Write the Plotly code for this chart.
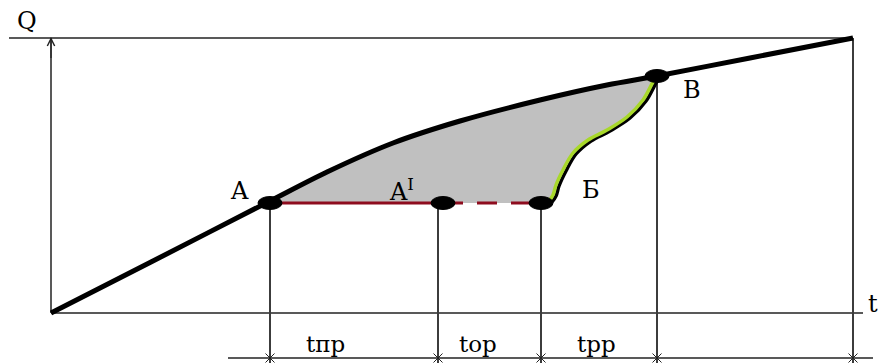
import plotly.graph_objects as go

# Main curve Q(t)
curve_t = [0, 100, 219, 276, 342, 409, 489, 556, 606, 699, 802]
curve_q = [0, 51, 112, 141, 170, 192, 213, 228, 237, 255, 275]

# Green recovery curve Б -> В
green_t = [498, 502, 505, 512, 522, 537, 556, 576, 592, 602, 606]
green_q = [112, 118, 128, 143, 160, 173, 183, 196, 213, 231, 237]

# Key points
point_labels = ["A", "A<sup>I</sup>", "Б", "В"]
point_t = [219, 392, 490, 606]
point_q = [110, 110, 110, 237]

# Vertical projection lines
drop_t = [219, 387, 490, 606, 802]
drop_top = [110, 110, 110, 237, 275]

# Interval labels
interval_labels = ["tпр", "tор", "tрр"]
interval_t = [274, 427, 545]

t_max = 812
q_top = 275
dim_q = -45

RED = "#8E0C1E"
GREEN = "#A8D82A"
GRAY = "#C0C0C0"
DROP = "#3c3c3c"
FONT = "DejaVu Serif"

fig = go.Figure()

# Gray area between curve (A..В), green curve and line A-Б
seg_t = [t for t in curve_t if point_t[0] <= t <= point_t[3]]
seg_q = [q for t, q in zip(curve_t, curve_q) if point_t[0] <= t <= point_t[3]]
fill_t = [point_t[0]] + seg_t + [point_t[3]] + green_t[::-1] + [point_t[2], point_t[0]]
fill_q = [point_q[0]] + seg_q + [point_q[3]] + green_q[::-1] + [point_q[2], point_q[0]]
fig.add_trace(go.Scatter(x=fill_t, y=fill_q, fill="toself", fillcolor=GRAY,
                         line=dict(width=0, color=GRAY), mode="lines", hoverinfo="skip"))

# Axes (drawn as lines)
fig.add_trace(go.Scatter(x=[0, 0], y=[0, q_top], mode="lines",
                         line=dict(color="#222", width=1.5), hoverinfo="skip"))
fig.add_trace(go.Scatter(x=[0, t_max], y=[0, 0], mode="lines",
                         line=dict(color="#222", width=1.5), hoverinfo="skip"))
fig.add_trace(go.Scatter(x=[-42, drop_t[-1]], y=[q_top, q_top], mode="lines",
                         line=dict(color="#222", width=1.5), hoverinfo="skip"))
fig.add_trace(go.Scatter(x=[point_t[0] - 42, t_max + 10], y=[dim_q, dim_q], mode="lines",
                         line=dict(color="#222", width=1.5), hoverinfo="skip"))

# Drop lines
for t, top in zip(drop_t, drop_top):
    fig.add_trace(go.Scatter(x=[t, t], y=[top, dim_q - 10], mode="lines",
                             line=dict(color=DROP, width=2), hoverinfo="skip"))
fig.add_trace(go.Scatter(x=drop_t, y=[dim_q] * len(drop_t), mode="markers",
                         marker=dict(symbol="x-thin-open", size=9, color="#222",
                                     line=dict(color="#222", width=1)), hoverinfo="skip"))

# Red lines A-A' (solid) and A'-Б (dashed)
fig.add_trace(go.Scatter(x=[point_t[0], point_t[1]], y=[point_q[0], point_q[1]], mode="lines",
                         line=dict(color=RED, width=3), hoverinfo="skip"))
fig.add_trace(go.Scatter(x=[point_t[1], point_t[2]], y=[point_q[1], point_q[2]], mode="lines",
                         line=dict(color=RED, width=3, dash="20px,14px"), hoverinfo="skip"))

# Main curve
fig.add_trace(go.Scatter(x=curve_t, y=curve_q, mode="lines", line_shape="spline",
                         line=dict(color="black", width=5, smoothing=0.8), hoverinfo="skip"))

# Green curve with black shadow
fig.add_trace(go.Scatter(x=[t + 3 for t in green_t], y=[q - 1 for q in green_q], mode="lines",
                         line_shape="spline", line=dict(color="black", width=3.5), hoverinfo="skip"))
fig.add_trace(go.Scatter(x=green_t, y=green_q, mode="lines", line_shape="spline",
                         line=dict(color=GREEN, width=3.5), hoverinfo="skip"))

# Point dots (ellipses)
shapes = []
for t, q in zip(point_t, point_q):
    shapes.append(dict(type="circle", xref="x", yref="y", x0=t - 12, x1=t + 12,
                       y0=q - 6.5, y1=q + 6.5, fillcolor="black",
                       line=dict(color="black", width=1), layer="above"))

annotations = []
# Axis arrow on Q
annotations.append(dict(x=0, y=q_top + 1, ax=0, ay=q_top - 30, xref="x", yref="y",
                        axref="x", ayref="y", showarrow=True, arrowhead=5,
                        arrowsize=1.2, arrowwidth=1.2, arrowcolor="#222", text=" "))

label_pos = [(188, 122, "center"), (336, 123, "left"), (540, 123, "center"), (641, 223, "center")]
for name, (lt, lq, anc) in zip(point_labels, label_pos):
    annotations.append(dict(x=lt, y=lq, text=name, showarrow=False, xanchor=anc,
                            yanchor="middle", font=dict(family=FONT, size=24, color="black")))
annotations.append(dict(x=-24, y=292, text="Q", showarrow=False,
                        font=dict(family=FONT, size=24, color="black")))
annotations.append(dict(x=815, y=9, text="t", showarrow=False, xanchor="left",
                        font=dict(family=FONT, size=24, color="black")))
for name, t in zip(interval_labels, interval_t):
    annotations.append(dict(x=t, y=-31, text=name, showarrow=False,
                            font=dict(family=FONT, size=23, color="black")))

fig.update_layout(
    width=878, height=363,
    margin=dict(l=0, r=0, t=0, b=0),
    paper_bgcolor="white", plot_bgcolor="white",
    showlegend=False,
    xaxis=dict(range=[-51, 827], visible=False, fixedrange=True),
    yaxis=dict(range=[-50, 313], visible=False, fixedrange=True),
    shapes=shapes, annotations=annotations,
)

fig.write_html(
    "out.html",
    config={"displayModeBar": False},
    post_script="document.body.style.margin='0';document.body.style.overflow='hidden';",
)
